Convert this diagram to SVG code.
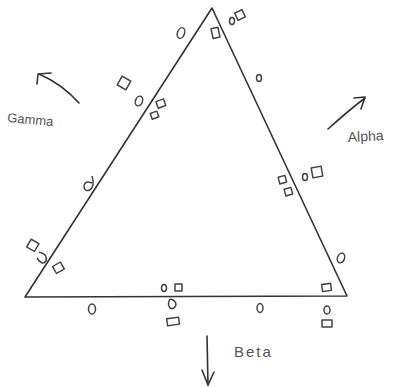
<svg xmlns="http://www.w3.org/2000/svg" width="396" height="387" viewBox="0 0 396 387">
<style>
.ln{fill:none;stroke:#333;stroke-width:1.6;stroke-linecap:round;stroke-linejoin:round}
.sh{fill:none;stroke:#444;stroke-width:1.5;stroke-linejoin:round}
.lb{font-family:"Liberation Sans",sans-serif;font-size:13px;fill:#555}
</style>
<rect width="396" height="387" fill="#fff"/>
<g id="triangle">
<path class="ln" d="M212,8 L25,297 L347,296 Z"/>
</g>
<g id="particles">
<ellipse class="sh" cx="181" cy="33" rx="3.5" ry="5.5" transform="rotate(20 181 33)"/>
<rect class="sh" x="212" y="28" width="7" height="10" transform="rotate(-12 215 33)"/>
<ellipse class="sh" cx="232" cy="21" rx="2.5" ry="3.5"/>
<rect class="sh" x="236" y="11" width="8" height="8" transform="rotate(-25 240 15)"/>
<rect class="sh" x="119" y="78" width="10" height="10" transform="rotate(30 124 83)"/>
<ellipse class="sh" cx="139" cy="101" rx="3.5" ry="5" transform="rotate(20 139 101)"/>
<rect class="sh" x="157" y="100" width="8" height="7" transform="rotate(-20 161 104)"/>
<rect class="sh" x="151" y="112" width="7" height="6" transform="rotate(-20 155 115)"/>
<ellipse class="sh" cx="259" cy="78" rx="2.5" ry="3.5"/>
<path class="sh" d="M92,176 Q95,186 90,190 Q84,192 84,186 Q85,180 92,183"/>
<rect class="sh" x="279" y="176" width="7" height="7" transform="rotate(-15 283 180)"/>
<rect class="sh" x="285" y="188" width="7" height="7" transform="rotate(-15 289 192)"/>
<ellipse class="sh" cx="305" cy="177" rx="2.5" ry="3.5"/>
<rect class="sh" x="312" y="167" width="10" height="10" transform="rotate(-10 317 172)"/>
<rect class="sh" x="28" y="241" width="9" height="9" transform="rotate(30 33 246)"/>
<path class="sh" d="M39,252 Q48,254 46,261 Q42,266 37,258"/>
<rect class="sh" x="54" y="264" width="9" height="8" transform="rotate(-30 58 268)"/>
<ellipse class="sh" cx="341" cy="258" rx="3.5" ry="5" transform="rotate(20 341 258)"/>
<ellipse class="sh" cx="164" cy="288" rx="2.5" ry="3.5"/>
<rect class="sh" x="175" y="284" width="7" height="7"/>
<path class="sh" d="M170,299 Q176,300 176,305 Q174,310 170,308 Q167,304 170,299"/>
<rect class="sh" x="167" y="318" width="12" height="7" transform="rotate(-8 173 321)"/>
<ellipse class="sh" cx="92" cy="309" rx="3.5" ry="5"/>
<ellipse class="sh" cx="260" cy="308" rx="3" ry="4.5"/>
<rect class="sh" x="322" y="284" width="9" height="7" transform="rotate(-8 326 287)"/>
<ellipse class="sh" cx="327" cy="310" rx="3" ry="4"/>
<rect class="sh" x="322" y="320" width="10" height="7"/>
</g>
<g id="connectors">
<path class="ln" d="M79,103 Q62,84 39,74"/>
<path class="ln" d="M37,84 L38,74 L51,73"/>
<path class="ln" d="M328,129 Q348,111 365,98"/>
<path class="ln" d="M354,98 L365,97 L361,109"/>
<path class="ln" d="M207,336 L208,385"/>
<path class="ln" d="M202,370 L208,385 L214,372"/>
</g>
<g id="labels">
<text class="lb" x="7" y="122" transform="rotate(5 7 122)">Gamma</text>
<text class="lb" x="348" y="142" style="font-size:14px" transform="rotate(-3 348 142)">Alpha</text>
<text class="lb" x="234" y="357" style="font-size:15px;letter-spacing:2px">Beta</text>
</g>
</svg>
